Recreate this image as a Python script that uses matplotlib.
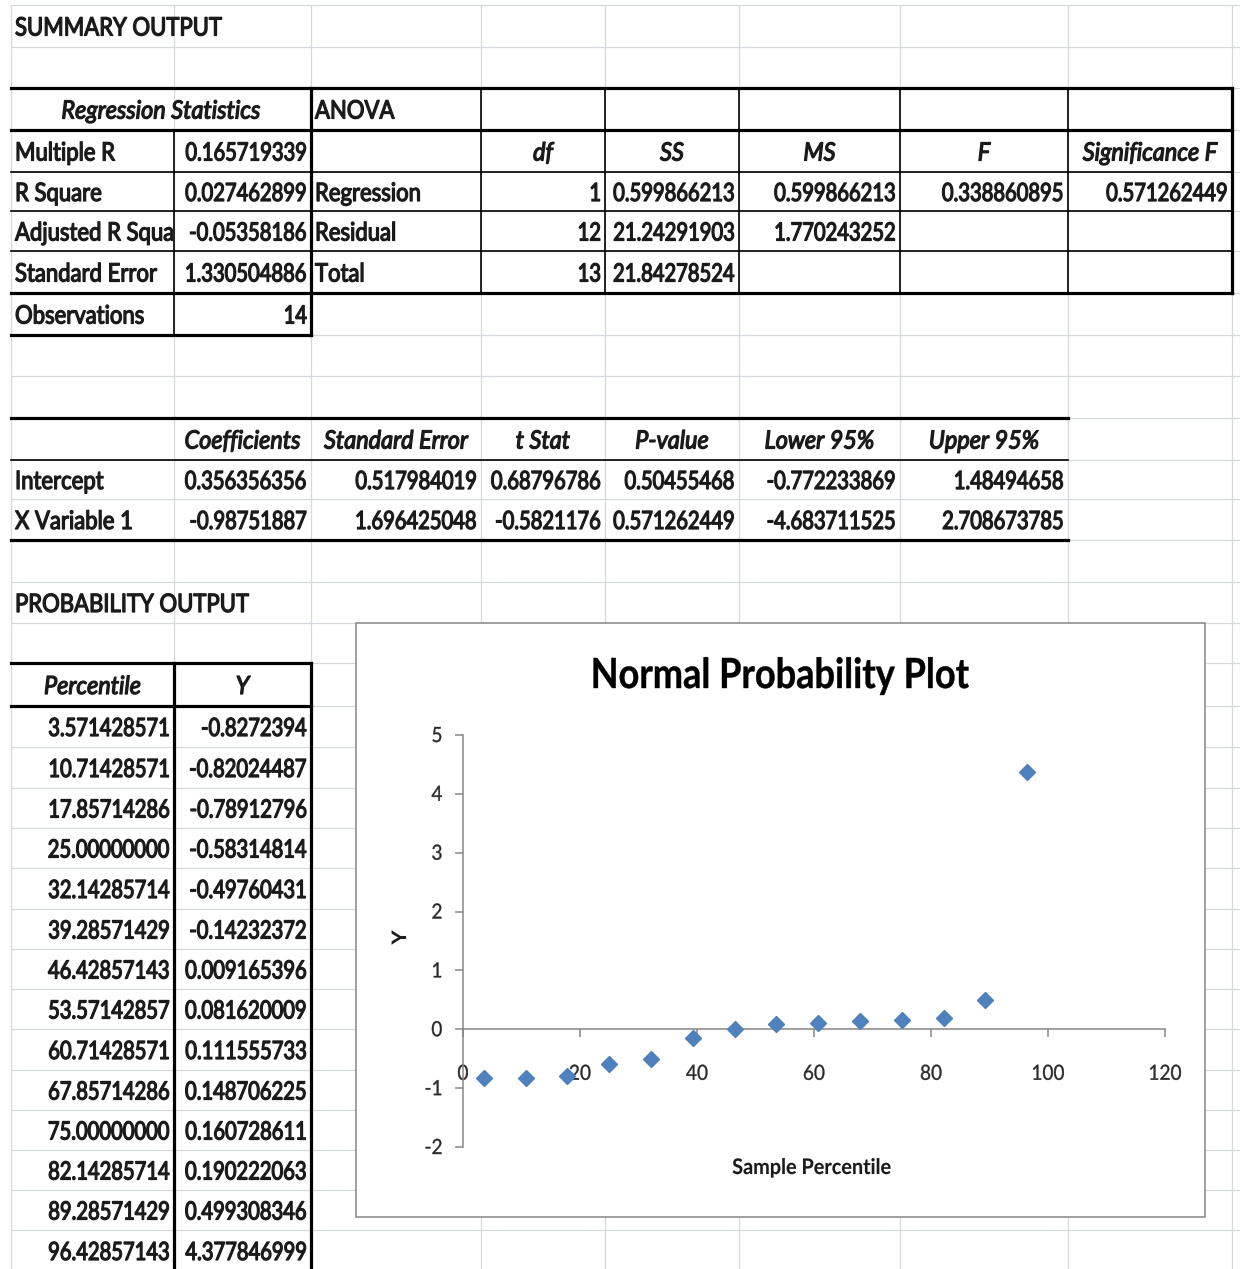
import matplotlib
matplotlib.use('Agg')
import matplotlib.pyplot as plt
from matplotlib.patches import Rectangle
from matplotlib.patheffects import AbstractPathEffect
from matplotlib.transforms import Affine2D, Bbox, TransformedBbox

plt.rcParams['font.family'] = ['Lato', 'DejaVu Sans']
plt.rcParams['axes.unicode_minus'] = False

# regression statistics block
reg_labels = ['Multiple R', 'R Square', 'Adjusted R Square', 'Standard Error', 'Observations']
reg_values = ['0.165719339', '0.027462899', '-0.05358186', '1.330504886', '14']

# ANOVA block
anova_cols = ['df', 'SS', 'MS', 'F', 'Significance F']
anova_rows = ['Regression', 'Residual', 'Total']
anova_df = ['1', '12', '13']
anova_ss = ['0.599866213', '21.24291903', '21.84278524']
anova_ms = ['0.599866213', '1.770243252', '']
anova_f = ['0.338860895', '', '']
anova_sig = ['0.571262449', '', '']

# coefficients block
coef_cols = ['Coefficients', 'Standard Error', 't Stat', 'P-value', 'Lower 95%', 'Upper 95%']
coef_rows = ['Intercept', 'X Variable 1']
coef_intercept = ['0.356356356', '0.517984019', '0.68796786', '0.50455468', '-0.772233869', '1.48494658']
coef_x1 = ['-0.98751887', '1.696425048', '-0.5821176', '0.571262449', '-4.683711525', '2.708673785']

# probability output
percentile = ['3.571428571', '10.71428571', '17.85714286', '25.00000000', '32.14285714',
              '39.28571429', '46.42857143', '53.57142857', '60.71428571', '67.85714286',
              '75.00000000', '82.14285714', '89.28571429', '96.42857143']
y_sorted = ['-0.8272394', '-0.82024487', '-0.78912796', '-0.58314814', '-0.49760431',
            '-0.14232372', '0.009165396', '0.081620009', '0.111555733', '0.148706225',
            '0.160728611', '0.190222063', '0.499308346', '4.377846999']

x_ticks = [0, 20, 40, 60, 80, 100, 120]
y_ticks = [-2, -1, 0, 1, 2, 3, 4, 5]

# sheet geometry in pixels
W, H = 1240, 1269
col_x = [11, 174, 311, 481, 605, 739, 900, 1068, 1232]
row_y = [5, 47, 88, 130, 172, 211, 251, 293, 335, 376, 418, 460, 499, 540, 582, 623,
         663, 706, 747, 788, 828, 868, 909, 949, 989, 1029, 1070, 1110, 1150, 1190, 1230, 1271]

GRID = '#d5d8dd'
INK = '#1a1a1a'
THICK = 2.3
THIN = 1.2


class Stretched(AbstractPathEffect):
    """Draw glyphs stretched vertically about their baseline, optionally thickened."""

    def __init__(self, sy=1.0, grow=0.0):
        super().__init__()
        self._sy = sy
        self._grow = grow

    def draw_path(self, renderer, gc, tpath, affine, rgbFace=None):
        x0, y0 = affine.transform((0, 0))
        aff = affine + Affine2D().translate(-x0, -y0).scale(1, self._sy).translate(x0, y0)
        gc0 = renderer.new_gc()
        gc0.copy_properties(gc)
        if self._grow and rgbFace is not None:
            gc0.set_linewidth(self._grow)
            gc0.set_foreground(rgbFace)
        renderer.draw_path(gc0, tpath, aff, rgbFace)
        gc0.restore()


fig = plt.figure(figsize=(W / 100, H / 100), dpi=100)
bg = fig.add_axes([0, 0, 1, 1])
bg.set_xlim(0, W)
bg.set_ylim(H, 0)
bg.axis('off')

# cell gridlines
bg.vlines(col_x, 5, H, color=GRID, lw=0.9, zorder=1)
bg.hlines(row_y, col_x[0], W, color=GRID, lw=0.9, zorder=1)

STYLES = {
    'num': dict(fontsize=14.5, style='normal', sy=1.25),
    'txt': dict(fontsize=15.9, style='normal', sy=1.15),
    'ital': dict(fontsize=16.9, style='italic', sy=1.07),
}


def cell(r, c, s, ha='left', kind='txt', c_end=None):
    x0 = col_x[c]
    x1 = col_x[c_end if c_end is not None else c + 1]
    yc = (row_y[r] + row_y[r + 1]) / 2
    if ha == 'left':
        x = x0 + 4
    elif ha == 'right':
        x = x1 - 4
    else:
        x = (x0 + x1) / 2
    st = STYLES[kind]
    t = bg.text(x, yc + 9.5, s, ha=ha, va='baseline', fontsize=st['fontsize'],
                style=st['style'], color=INK, zorder=4,
                path_effects=[Stretched(st['sy'], 0.9)])
    box = TransformedBbox(Bbox([[x0 + 1, row_y[r]], [x1 - 1, row_y[r + 1]]]), bg.transData)
    t.set_clip_box(box)
    t.set_clip_on(True)
    return t


cell(0, 0, 'SUMMARY OUTPUT', c_end=8)
cell(2, 0, 'Regression Statistics', ha='center', kind='ital', c_end=2)
cell(2, 2, 'ANOVA')
for i, (lab, val) in enumerate(zip(reg_labels, reg_values)):
    cell(3 + i, 0, lab)
    cell(3 + i, 1, val, ha='right', kind='num')
for j, name in enumerate(anova_cols):
    cell(3, 3 + j, name, ha='center', kind='ital')
for i, name in enumerate(anova_rows):
    cell(4 + i, 2, name)
    for j, col in enumerate([anova_df, anova_ss, anova_ms, anova_f, anova_sig]):
        if col[i]:
            cell(4 + i, 3 + j, col[i], ha='right', kind='num')

for j, name in enumerate(coef_cols):
    cell(10, 1 + j, name, ha='center', kind='ital')
for i, (name, vals) in enumerate(zip(coef_rows, [coef_intercept, coef_x1])):
    cell(11 + i, 0, name)
    for j, v in enumerate(vals):
        cell(11 + i, 1 + j, v, ha='right', kind='num')

cell(14, 0, 'PROBABILITY OUTPUT', c_end=8)
cell(16, 0, 'Percentile', ha='center', kind='ital')
cell(16, 1, 'Y', ha='center', kind='ital')
for i, (p, y) in enumerate(zip(percentile, y_sorted)):
    cell(17 + i, 0, p, ha='right', kind='num')
    cell(17 + i, 1, y, ha='right', kind='num')

# table borders
bk = dict(color='black', zorder=2, capstyle='projecting')
bg.hlines([88, 130, 293], col_x[0], col_x[8], lw=THICK, **bk)
bg.hlines([172, 211, 251], col_x[0], col_x[8], lw=THIN, **bk)
bg.hlines(335, col_x[0], col_x[2], lw=THICK, **bk)
bg.vlines(col_x[2], 88, 335, lw=THICK, **bk)
bg.vlines(col_x[1], 130, 335, lw=THIN, **bk)
bg.vlines(col_x[3:8], 88, 293, lw=THIN, **bk)
bg.vlines(col_x[8], 88, 293, lw=THICK, **bk)

bg.hlines([418, 540], col_x[0], col_x[7], lw=THICK, **bk)
bg.hlines(460, col_x[0], col_x[7], lw=THIN, **bk)

bg.hlines([663, 706], col_x[0], col_x[2], lw=THICK, **bk)
bg.vlines(col_x[1:3], 663, H, lw=THICK, **bk)

# chart area
bg.add_patch(Rectangle((356, 623), 849, 594, facecolor='white', edgecolor='#868686',
                       lw=1.1, zorder=3))

# plot area
px0, px1, py0, py1 = 463, 1165, 735, 1147
ax = fig.add_axes([px0 / W, 1 - py1 / H, (px1 - px0) / W, (py1 - py0) / H])
ax.set_facecolor('none')
ax.set_xlim(0, 120)
ax.set_ylim(-2, 5)
ax.set_xticks(x_ticks)
ax.set_yticks(y_ticks)
ax.spines['top'].set_visible(False)
ax.spines['right'].set_visible(False)
ax.spines['bottom'].set_position(('data', 0))
for sp in ('left', 'bottom'):
    ax.spines[sp].set_color('#868686')
    ax.spines[sp].set_linewidth(1.1)
ax.tick_params(axis='both', direction='out', length=5.8, width=1.1, color='#868686',
               labelsize=13.7, labelcolor='#2a2a2a')
ax.tick_params(axis='x', pad=20.5)
ax.tick_params(axis='y', pad=9)
for tk in ax.xaxis.get_major_ticks() + ax.yaxis.get_major_ticks():
    tk.label1.set_path_effects([Stretched(1.1, 0.25)])

ax.plot([float(v) for v in percentile], [float(v) for v in y_sorted], ls='none',
        marker='D', ms=8.5, color='#4f81bd', mec='#4f81bd', clip_on=False, zorder=5)

ax.text((780 - px0) / (px1 - px0), (py1 - 688) / (py1 - py0), 'Normal Probability Plot',
        transform=ax.transAxes, ha='center', va='baseline', fontsize=26, fontweight='bold',
        color='black', path_effects=[Stretched(1.15, 0.3)])
ax.set_xlabel('Sample Percentile', fontsize=14.3, fontweight='bold', color=INK,
              path_effects=[Stretched(1.08, 0.1)])
ax.xaxis.set_label_coords((812 - px0) / (px1 - px0), -(1168 - py1) / (py1 - py0))
ax.xaxis.label.set_va('center')
ax.set_ylabel('Y', fontsize=14.3, fontweight='bold', color=INK,
              path_effects=[Stretched(1.08, 0.1)])
ax.yaxis.set_label_coords((400 - px0) / (px1 - px0), (py1 - 938) / (py1 - py0))
ax.yaxis.label.set_va('center')

fig.savefig('out.png', dpi=100)
